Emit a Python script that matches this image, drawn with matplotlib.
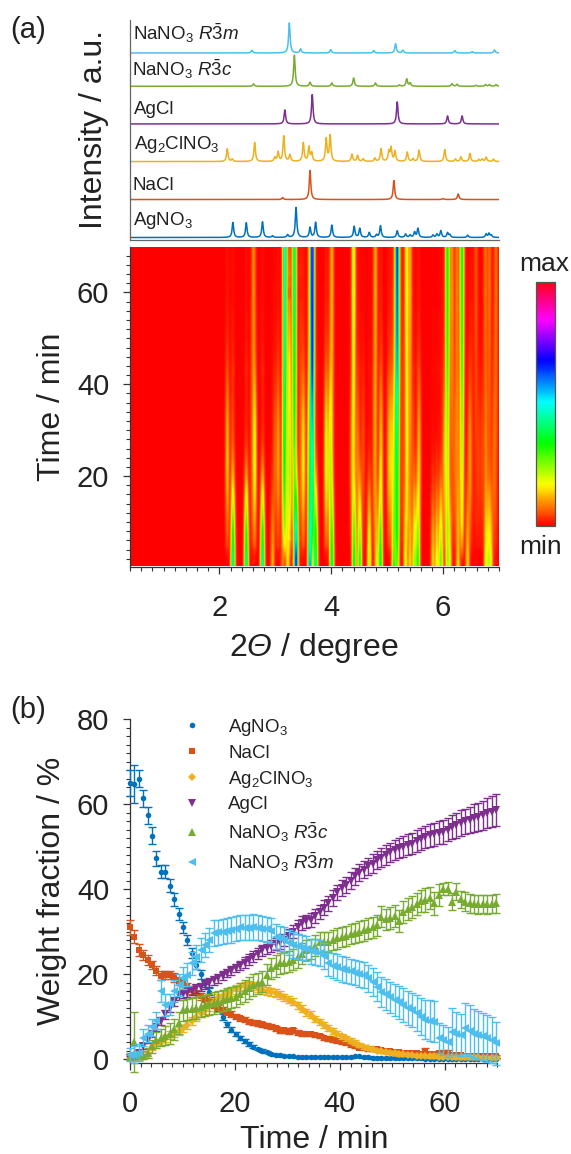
import numpy as np
import matplotlib
matplotlib.use('Agg')
import matplotlib.pyplot as plt
from matplotlib.ticker import MultipleLocator, NullLocator

plt.rcParams['font.family'] = ['Liberation Sans', 'DejaVu Sans']
plt.rcParams['mathtext.fontset'] = 'custom'
plt.rcParams['mathtext.rm'] = 'Liberation Sans'
plt.rcParams['mathtext.it'] = 'Liberation Sans:italic'
plt.rcParams['mathtext.bf'] = 'Liberation Sans:bold'
plt.rcParams['mathtext.cal'] = 'Liberation Sans:italic'
plt.rcParams['mathtext.fallback'] = 'cm'

W, H = 571, 1154

names = [r'$\mathrm{AgNO_3}$', 'NaCl', r'$\mathrm{Ag_2ClNO_3}$', 'AgCl',
         r'$\mathrm{NaNO_3}\ R\bar{3}c$', r'$\mathrm{NaNO_3}\ R\bar{3}m$']
colors = ['#0072BD', '#D95319', '#EDB120', '#7E2F8E', '#77AC30', '#4DBEEE']
markers = ['o', 's', 'D', 'v', '^', '<']
msizes = [4.0, 3.8, 3.8, 5.6, 5.6, 5.6]

# diffraction peaks: position (degree), height
agno3_pos = [2.24,2.48,2.77,2.95,3.22,3.37,3.62,3.72,4.01,4.41,4.51,4.68,4.81,4.88,5.18,5.33,5.41,5.49,5.55,5.82,5.89,5.96,6.08,6.12,6.44,6.77,6.82,6.86]
agno3_h = [45,44,47,5,8,90,30,45,37,33,27,15,8,35,20,10,7,16,27,7,10,20,14,8,7,10,12,7]
nacl_pos = [3.13,3.62,5.12,6.0,6.27]
nacl_h = [6,87,57,3,17]
ag2_pos = [2.14,2.23,2.63,2.99,3.05,3.15,3.26,3.50,3.60,3.65,3.91,3.98,4.37,4.47,4.57,4.78,4.89,5.03,5.07,5.14,5.36,5.46,5.57,6.03,6.22,6.32,6.48,6.64,6.70,6.77,6.90]
ag2_h = [38,7,57,12,28,76,20,56,43,25,68,78,22,18,8,10,38,30,40,30,28,8,34,36,7,14,24,6,7,13,7]
agcl_pos = [3.17,3.66,5.18,6.08,6.34]
agcl_h = [42,88,66,24,24]
r3c_pos = [2.61,3.34,3.62,4.01,4.40,4.79,5.22,5.35,5.41,6.16,6.25,6.59,6.76,6.83,6.95]
r3c_h = [7,93,12,10,25,10,4,22,10,8,6,3,5,5,5]
r3m_pos = [2.58,3.25,3.45,3.99,4.76,5.15,5.28,6.21,6.52,6.92]
r3m_h = [8,90,12,10,7,28,8,7,4,9]
heat_gain = [1, 1, 0.6, 1.5, 0.8, 0.3]

# weight fractions (%), one value per scan
agno3_w = [64.9,64.7,65.9,61.3,57.3,52.5,47.2,44.1,44.1,40.8,37.6,34.1,31.0,28.0,24.9,22.1,19.9,17.8,15.8,13.9,
           11.9,9.9,8.2,6.9,5.9,5.0,4.2,3.5,2.9,2.4,2.0,1.6,1.2,1.0,0.9,0.8,0.7,0.6,0.5,0.5,
           0.5,0.4,0.4,0.4,0.4,0.4,0.4,0.4,0.4,0.4,0.5,0.6,0.6,0.4,0.4,0.3,0.3,0.3,0.3,0.2,
           0.2,0.2,0.2,0.2,0.2,0.2,0.2,0.1,0.1,0.1,0.1,0.1,0.1,0.1,0.1,0.1,0.1,0.1,0.1,0.1,
           0.1,0.1,0.1,0.1]
agno3_e = [3.0,4.5,2.0,2.0,2.0,2.0,1.8,1.5,1.6,1.5,1.5,1.4,1.3,1.2,1.2,1.0,1.0,0.9,0.8,0.8,
           0.7,0.7,0.6,0.6,0.5,0.5,0.4,0.4,0.4,0.3,0.3,0.3,0.3,0.2,0.2,0.2,0.2,0.2,0.2,0.2,
           0.2,0.2,0.2,0.2,0.2,0.2,0.2,0.2,0.2,0.2,0.2,0.2,0.2,0.2,0.2,0.2,0.2,0.2,0.2,0.2,
           0.2,0.2,0.2,0.2,0.2,0.2,0.2,0.2,0.2,0.2,0.2,0.2,0.2,0.2,0.2,0.2,0.2,0.2,0.2,0.2,
           0.2,0.2,0.2,0.2]
nacl_w = [31.0,28.8,25.6,24.5,23.3,22.1,20.8,19.6,19.8,19.8,19.2,18.4,17.8,17.0,16.2,15.5,14.8,14.1,13.5,12.7,
          12.2,11.5,11.0,10.5,10.0,9.6,9.2,8.8,8.5,8.4,8.2,7.8,7.6,7.2,6.8,6.8,6.6,6.8,6.2,6.0,
          5.9,5.8,5.6,5.4,5.0,4.8,4.6,4.3,4.0,3.7,3.4,3.1,2.7,2.5,2.3,2.4,2.4,2.2,2.0,1.8,
          1.7,1.6,1.5,1.4,1.3,1.3,1.2,1.7,1.2,1.2,1.3,1.5,1.5,1.0,1.0,0.9,0.8,0.8,0.7,0.7,
          0.7,0.6,0.6,0.6]
nacl_e = [1.8,1.6,1.4,1.2,1.1,1.0,1.0,1.0,1.0,1.0,1.0,0.9,0.9,0.9,0.9,0.8,0.8,0.8,0.8,0.8,
          0.7,0.7,0.7,0.7,0.7,0.6,0.6,0.6,0.6,0.6,0.6,0.6,0.6,0.6,0.6,0.6,0.6,0.6,0.6,0.6,
          0.5,0.5,0.5,0.5,0.5,0.5,0.5,0.5,0.5,0.5,0.5,0.5,0.4,0.4,0.4,0.5,0.5,0.4,0.4,0.4,
          0.3,0.3,0.3,0.3,0.3,0.4,0.5,0.8,0.4,0.4,0.5,0.6,0.6,0.4,0.3,0.3,0.3,0.3,0.3,0.3,
          0.3,0.3,0.3,0.3]
ag2_w = [0.0,0.1,0.3,0.6,1.0,2.9,3.5,4.0,4.8,5.6,6.0,6.6,7.2,8.0,9.0,10.0,10.8,11.6,12.4,13.4,
         14.3,14.9,15.4,15.9,16.4,17.0,17.2,17.3,17.2,16.8,16.2,16.0,15.8,15.5,15.0,14.5,14.0,13.5,12.6,11.8,
         11.0,10.4,9.4,8.8,8.0,7.2,6.6,6.0,5.4,4.9,4.3,3.8,3.3,2.9,2.6,2.3,2.0,1.8,1.6,1.5,
         1.4,1.2,1.1,1.0,0.9,0.8,0.7,0.7,0.6,0.6,0.5,0.5,0.5,0.5,0.4,0.4,0.4,0.4,0.4,0.4,
         0.3,0.3,0.3,0.3]
ag2_e = [0.3,0.4,0.5,0.6,0.7,0.8,0.8,0.8,0.8,0.9,0.9,0.9,0.9,1.0,1.0,1.0,1.0,1.0,1.0,1.0,
         1.0,1.0,1.0,1.0,1.0,1.0,1.0,1.0,1.0,1.0,0.9,0.9,0.9,0.9,0.9,0.9,0.8,0.8,0.8,0.8,
         0.8,0.8,0.8,0.7,0.7,0.7,0.7,0.7,0.6,0.6,0.6,0.6,0.5,0.5,0.5,0.4,0.4,0.4,0.4,0.4,
         0.4,0.4,0.3,0.3,0.3,0.3,0.3,0.3,0.3,0.3,0.3,0.3,0.3,0.3,0.3,0.3,0.3,0.3,0.3,0.3,
         0.3,0.3,0.3,0.3]
agcl_w = [0.3,0.5,1.5,3.0,4.5,6.0,7.5,9.0,10.5,12.0,13.5,15.0,15.3,15.6,16.0,16.6,17.0,17.5,18.0,18.5,
          19.0,19.6,20.2,20.8,21.4,22.0,22.7,23.4,24.1,24.8,25.6,26.1,26.6,27.0,27.5,28.0,29.0,30.0,31.0,32.0,
          32.4,32.7,33.6,34.6,35.6,36.6,37.9,39.2,40.3,41.0,42.0,43.0,43.8,44.5,45.3,46.0,46.8,47.4,48.0,48.6,
          49.2,49.6,50.0,50.4,50.7,51.3,51.8,52.3,52.6,52.9,53.2,53.5,54.0,54.6,55.0,55.5,55.9,56.3,56.7,57.0,
          57.4,57.8,58.2,58.6]
agcl_e = [0.4,0.5,0.6,0.7,0.8,0.8,0.9,0.9,1.0,1.0,1.0,1.0,1.0,1.0,1.0,1.0,1.0,1.0,1.0,1.0,
          1.0,1.0,1.0,1.0,1.0,1.1,1.2,1.2,1.3,1.3,1.3,1.4,1.4,1.4,1.5,1.5,1.5,1.5,1.6,1.6,
          1.6,1.6,1.7,1.7,1.7,1.8,1.8,1.8,1.9,1.9,1.9,2.0,2.0,2.0,2.1,2.2,2.2,2.3,2.3,2.3,
          2.4,2.4,2.4,2.5,2.5,2.5,2.6,2.6,2.7,2.7,2.7,2.8,2.8,2.9,2.9,3.0,3.0,3.1,3.2,3.3,
          3.4,3.5,3.6,3.7]
r3c_w = [0.5,4.0,1.0,0.9,1.5,3.0,4.5,5.0,5.5,6.0,7.0,8.5,11.5,11.7,11.8,12.0,12.3,12.6,12.9,13.2,
         13.5,13.8,14.1,14.4,14.7,15.4,16.0,16.7,17.4,17.8,18.2,19.8,21.3,21.9,22.5,22.7,22.9,23.4,24.0,24.8,
         25.6,25.9,26.7,27.6,27.6,27.6,28.0,28.4,28.7,29.0,29.4,29.7,30.0,30.3,30.7,31.0,31.5,33.5,32.9,33.2,
         33.6,32.5,34.6,35.2,35.8,36.4,37.2,37.4,37.8,36.6,38.5,40.0,40.1,37.0,39.4,37.6,37.0,36.6,36.5,36.4,
         36.5,36.4,36.5,36.6]
r3c_e = [0.8,7.0,1.0,1.0,1.2,1.5,1.8,2.0,2.2,2.4,2.5,2.5,2.5,2.5,2.5,2.5,2.5,2.5,2.5,2.5,
         2.5,2.5,2.5,2.5,2.5,2.5,2.5,2.5,2.5,2.5,2.5,2.5,2.5,2.5,2.5,2.5,2.5,2.5,2.5,2.5,
         2.4,2.4,2.4,2.4,2.4,2.4,2.4,2.4,2.4,2.4,2.4,2.4,2.4,2.5,2.5,2.5,2.5,2.5,2.5,2.5,
         2.6,2.6,2.6,2.6,2.6,2.6,2.6,2.8,2.6,2.8,2.6,1.5,1.5,2.0,2.0,2.0,2.2,2.2,2.2,2.2,
         2.2,2.2,2.2,2.2]
r3m_w = [1.0,1.0,1.5,5.0,6.0,7.5,9.0,16.0,12.7,12.9,16.0,17.4,19.0,19.8,22.5,24.0,25.6,26.8,28.0,29.6,
         29.8,30.0,30.2,30.4,30.7,31.0,30.9,30.9,31.1,30.9,30.7,30.5,30.2,28.8,28.4,28.0,27.4,26.8,26.5,26.2,
         26.0,25.3,25.2,24.9,24.2,22.5,22.0,21.6,21.2,20.9,20.6,20.3,20.0,19.8,19.0,18.2,17.0,15.8,15.2,14.5,
         13.9,13.3,12.7,12.1,11.5,10.8,10.0,9.2,9.0,8.8,4.9,4.4,4.0,6.4,6.0,5.6,7.2,6.6,6.0,5.7,
         5.3,4.9,4.5,3.7]
r3m_e = [1.5,2.0,2.0,2.0,2.0,2.0,2.0,2.5,2.5,2.5,2.5,2.6,2.6,2.7,2.7,2.8,2.8,2.9,2.9,3.0,
         3.0,3.0,3.0,3.0,3.0,3.0,3.0,3.0,3.0,3.0,3.0,3.0,3.0,3.0,3.0,3.0,3.0,3.0,3.0,3.0,
         3.0,3.0,3.0,3.0,3.0,3.0,3.0,3.0,3.0,3.0,3.0,3.0,3.0,3.0,3.2,3.3,3.4,3.5,3.6,3.7,
         3.8,3.9,4.0,4.0,4.0,4.2,4.4,4.6,4.8,4.8,3.5,3.5,3.6,5.5,5.0,5.0,6.0,6.0,5.8,5.6,
         5.5,5.5,5.5,5.0]

scan_step = 0.84
time = np.arange(len(agno3_w)) * scan_step
pos = [agno3_pos, nacl_pos, ag2_pos, agcl_pos, r3c_pos, r3m_pos]
hts = [agno3_h, nacl_h, ag2_h, agcl_h, r3c_h, r3m_h]
wts = [agno3_w, nacl_w, ag2_w, agcl_w, r3c_w, r3m_w]
errs = [agno3_e, nacl_e, ag2_e, agcl_e, r3c_e, r3m_e]


def pattern(x, p, h, hw):
    out = np.zeros_like(x)
    for c, a in zip(p, h):
        out += a / (1 + ((x - c) / hw) ** 2)
    return out


def band(x, p, h, sig):
    out = np.zeros_like(x)
    for c, a in zip(p, h):
        out += a * np.exp(-0.5 * ((x - c) / sig) ** 2)
    return out


def px_axes(fig, l, t, r, b):
    return fig.add_axes([l / W, 1 - b / H, (r - l) / W, (b - t) / H])


fig = plt.figure(figsize=(W / 100, H / 100), dpi=100)
ink = '#333333'
txt = '#222222'
two_theta = np.linspace(0.4, 7.0, 1321)

# --- reference patterns
ax_s = px_axes(fig, 130, 20, 499, 239.5)
offsets = [6, 120, 234, 347, 460, 560]
for i in range(6):
    ax_s.plot(two_theta, offsets[i] + pattern(two_theta, pos[i], hts[i], 0.016), color=colors[i], lw=1.1)
ax_s.set_xlim(0.4, 7.0)
ax_s.set_ylim(0, 659)
ax_s.xaxis.set_major_locator(NullLocator())
ax_s.yaxis.set_major_locator(NullLocator())
for s in ['top', 'right']:
    ax_s.spines[s].set_visible(False)
for s in ['left', 'bottom']:
    ax_s.spines[s].set_color('#666666')
    ax_s.spines[s].set_linewidth(0.9)
ax_s.set_ylabel('Intensity / a.u.', fontsize=23, color=txt)
ax_s.yaxis.set_label_coords((109 - 130) / 369, 0.5)
lab_x = [133, 132, 134, 134, 132, 133]
lab_y = [225, 190, 149, 114, 75.7, 40]
for i in range(6):
    ax_s.text((lab_x[i] - 130) / 369, (239.5 - lab_y[i]) / 219.5, names[i], transform=ax_s.transAxes,
              fontsize=13.5, va='baseline', ha='left', color=txt)

# --- heat map
ax_h = px_axes(fig, 130, 247, 499, 566.5)
grid = np.zeros((len(time), two_theta.size))
for i in range(6):
    grid += heat_gain[i] * np.outer(np.asarray(wts[i]), band(two_theta, pos[i], hts[i], 0.021))
grid = np.clip(grid ** 0.6 / 266.0, 0, 0.99)
im = ax_h.imshow(grid, origin='lower', aspect='auto', cmap='hsv', vmin=0, vmax=1,
                 extent=[0.4, 7.0, 0, 70], interpolation='bilinear')
ax_h.set_xlim(0.4, 7.0)
ax_h.set_ylim(0.3, 69.9)
ax_h.xaxis.set_major_locator(MultipleLocator(2))
ax_h.xaxis.set_minor_locator(MultipleLocator(0.2))
ax_h.yaxis.set_major_locator(MultipleLocator(20))
ax_h.yaxis.set_minor_locator(MultipleLocator(2))
for s in ['top', 'right']:
    ax_h.spines[s].set_visible(False)
ax_h.set_xlabel(r'2$\mathcal{\Theta}$ / degree', fontsize=23, color=txt)
ax_h.xaxis.set_label_coords((314 - 130) / 369, -(631 - 566.5) / 319.5)
ax_h.set_ylabel('Time / min', fontsize=23, color=txt)
ax_h.yaxis.set_label_coords((67 - 130) / 369, 0.5)

# --- colour bar
cax = px_axes(fig, 536, 282, 555, 526)
cb = fig.colorbar(im, cax=cax)
cb.set_ticks([])
cb.outline.set_edgecolor('#555555')
cb.outline.set_linewidth(0.9)
fig.text(544 / W, 1 - 264 / H, 'max', fontsize=19, ha='center', va='center', color=txt)
fig.text(541 / W, 1 - 547 / H, 'min', fontsize=19, ha='center', va='center', color=txt)

# --- weight fractions
ax_w = px_axes(fig, 130, 719, 497.5, 1063)
for i in range(6):
    ebc = ax_w.errorbar(time, wts[i], yerr=errs[i], fmt=markers[i], color=colors[i], ms=msizes[i],
                        elinewidth=1.0, capsize=2.8, capthick=1.0, clip_on=False,
                        label=names[i], zorder=3 + i)
    ebc[0].set_markeredgewidth(0)
ax_w.set_xlim(0, 70)
ax_w.set_ylim(-0.94, 80)
ax_w.xaxis.set_major_locator(MultipleLocator(20))
ax_w.xaxis.set_minor_locator(MultipleLocator(2))
ax_w.yaxis.set_major_locator(MultipleLocator(20))
ax_w.yaxis.set_minor_locator(MultipleLocator(2))
for s in ['top', 'right']:
    ax_w.spines[s].set_visible(False)
ax_w.set_xlabel('Time / min', fontsize=23, color=txt)
ax_w.xaxis.set_label_coords((314 - 130) / 367.5, -(1125 - 1063) / 344)
ax_w.set_ylabel('Weight fraction / %', fontsize=23, color=txt)
ax_w.yaxis.set_label_coords((67 - 130) / 367.5, 0.5)
handles, labels = ax_w.get_legend_handles_labels()
handles = [h[0] for h in handles]
ax_w.legend(handles, labels, loc='upper left', bbox_to_anchor=(0.128, 1.006), frameon=False,
            fontsize=13.5, numpoints=1, handlelength=1.6, handletextpad=1.12,
            labelspacing=0.36, borderpad=0, borderaxespad=0, labelcolor=txt)

for ax, xpad in ((ax_h, 15), (ax_w, 14.4)):
    ax.tick_params(which='major', direction='out', length=5, width=0.9, color=ink,
                   labelsize=21, labelcolor=txt)
    ax.tick_params(axis='y', which='major', pad=10)
    ax.tick_params(axis='x', which='major', pad=xpad)
    ax.tick_params(which='minor', direction='out', length=2.8, width=0.8, color=ink)
    for s in ['left', 'bottom']:
        ax.spines[s].set_color(ink)
        ax.spines[s].set_linewidth(0.9)

fig.text(10 / W, 1 - 38 / H, '(a)', fontsize=21, ha='left', va='baseline', color=txt)
fig.text(10 / W, 1 - 718 / H, '(b)', fontsize=21, ha='left', va='baseline', color=txt)

fig.savefig('out.png', dpi=100)
